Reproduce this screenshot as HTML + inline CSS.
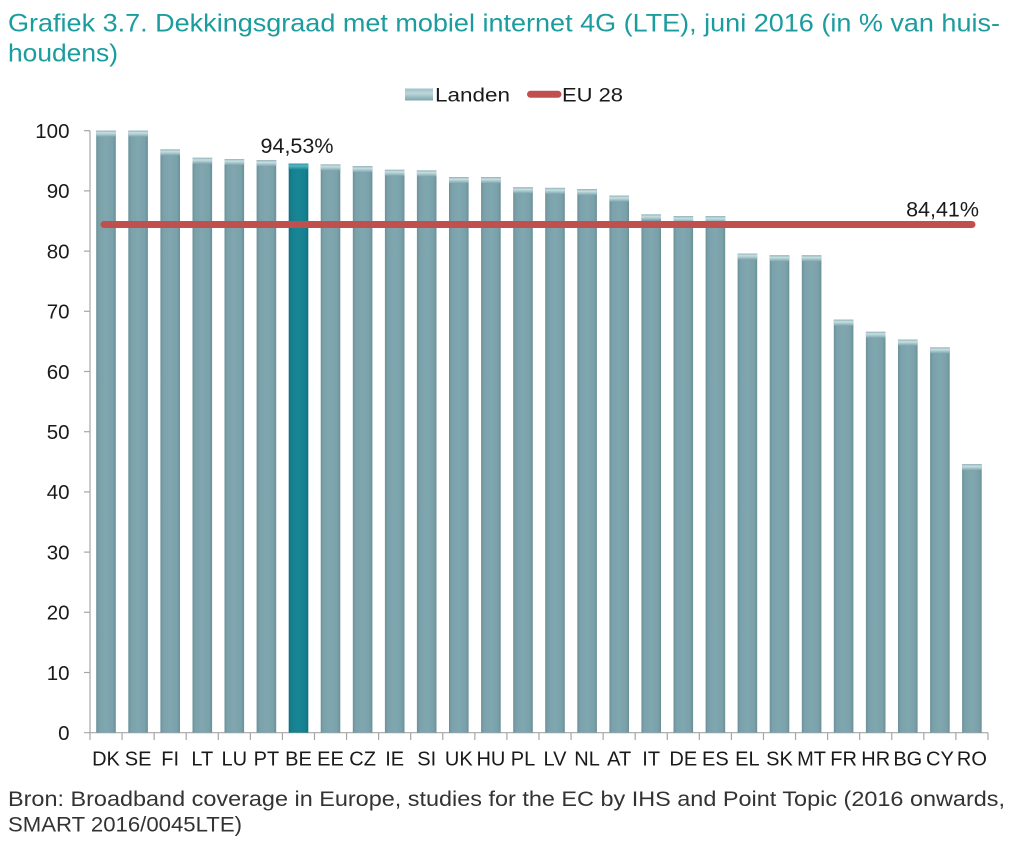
<!DOCTYPE html>
<html>
<head>
<meta charset="utf-8">
<style>
  html, body { margin:0; padding:0; background:#ffffff; }
  body { width:1015px; height:845px; overflow:hidden; }
  svg { display:block; }
  text { font-family: "Liberation Sans", Arial, sans-serif; }
  .b { fill:url(#barGrad); }
  .be { fill:url(#beGrad); }
  .c { fill:url(#capGrad); }
  .cb { fill:url(#capBeGrad); }
  .yl { font-size:20.5px; fill:#1a1a1a; text-anchor:end; }
  .xl { font-size:20px; fill:#1a1a1a; text-anchor:middle; }
</style>
</head>
<body>
<svg width="1015" height="845" viewBox="0 0 1015 845" xmlns="http://www.w3.org/2000/svg">
  <defs>
    <linearGradient id="barGrad" x1="0" y1="0" x2="1" y2="0">
      <stop offset="0" stop-color="#6a9199"/>
      <stop offset="0.15" stop-color="#7ba2aa"/>
      <stop offset="0.5" stop-color="#80a7af"/>
      <stop offset="0.85" stop-color="#7aa1a9"/>
      <stop offset="1" stop-color="#698f97"/>
    </linearGradient>
    <linearGradient id="beGrad" x1="0" y1="0" x2="1" y2="0">
      <stop offset="0" stop-color="#0e6f7d"/>
      <stop offset="0.15" stop-color="#15808f"/>
      <stop offset="0.5" stop-color="#198694"/>
      <stop offset="0.85" stop-color="#15808f"/>
      <stop offset="1" stop-color="#0e6f7d"/>
    </linearGradient>
    <linearGradient id="capGrad" x1="0" y1="0" x2="0" y2="1">
      <stop offset="0" stop-color="#8fb3ba"/>
      <stop offset="0.35" stop-color="#c8dfe2"/>
      <stop offset="1" stop-color="#80a7af"/>
    </linearGradient>
    <linearGradient id="capBeGrad" x1="0" y1="0" x2="0" y2="1">
      <stop offset="0" stop-color="#2a95a3"/>
      <stop offset="0.35" stop-color="#55b6c2"/>
      <stop offset="1" stop-color="#198694"/>
    </linearGradient>
    <linearGradient id="legGrad" x1="0" y1="0" x2="0" y2="1">
      <stop offset="0" stop-color="#9cc0c6"/>
      <stop offset="0.4" stop-color="#bcd6da"/>
      <stop offset="1" stop-color="#7da4ac"/>
    </linearGradient>
  </defs>

  <!-- Title -->
  <text x="8" y="31.5" font-size="25" fill="#1b9c9e" textLength="992" lengthAdjust="spacingAndGlyphs">Grafiek 3.7. Dekkingsgraad met mobiel internet 4G (LTE), juni 2016 (in % van huis-</text>
  <text x="8" y="61.5" font-size="25" fill="#1b9c9e" textLength="110" lengthAdjust="spacingAndGlyphs">houdens)</text>

  <!-- Legend -->
  <rect x="405" y="88.5" width="28" height="12" fill="url(#legGrad)"/>
  <text x="435" y="101.5" font-size="19" fill="#1a1a1a" textLength="75" lengthAdjust="spacingAndGlyphs">Landen</text>
  <line x1="530.5" y1="94.3" x2="558" y2="94.3" stroke="#c0504d" stroke-width="7" stroke-linecap="round"/>
  <text x="562" y="101.5" font-size="19" fill="#1a1a1a" textLength="61" lengthAdjust="spacingAndGlyphs">EU 28</text>

  <!-- Y axis -->
  <g stroke="#a6a6a6" stroke-width="1.2" fill="none">
    <line x1="90" y1="130.7" x2="90" y2="732.7"/>
    <line x1="84" y1="732.7" x2="988" y2="732.7"/>
    <line x1="84" y1="672.5" x2="90" y2="672.5"/>
    <line x1="84" y1="612.3" x2="90" y2="612.3"/>
    <line x1="84" y1="552.1" x2="90" y2="552.1"/>
    <line x1="84" y1="491.9" x2="90" y2="491.9"/>
    <line x1="84" y1="431.7" x2="90" y2="431.7"/>
    <line x1="84" y1="371.5" x2="90" y2="371.5"/>
    <line x1="84" y1="311.3" x2="90" y2="311.3"/>
    <line x1="84" y1="251.1" x2="90" y2="251.1"/>
    <line x1="84" y1="190.9" x2="90" y2="190.9"/>
    <line x1="84" y1="130.7" x2="90" y2="130.7"/>
    <line x1="90" y1="732.7" x2="90" y2="740"/>
    <line x1="122.07" y1="732.7" x2="122.07" y2="740"/>
    <line x1="154.14" y1="732.7" x2="154.14" y2="740"/>
    <line x1="186.21" y1="732.7" x2="186.21" y2="740"/>
    <line x1="218.28" y1="732.7" x2="218.28" y2="740"/>
    <line x1="250.35" y1="732.7" x2="250.35" y2="740"/>
    <line x1="282.42" y1="732.7" x2="282.42" y2="740"/>
    <line x1="314.49" y1="732.7" x2="314.49" y2="740"/>
    <line x1="346.56" y1="732.7" x2="346.56" y2="740"/>
    <line x1="378.63" y1="732.7" x2="378.63" y2="740"/>
    <line x1="410.7" y1="732.7" x2="410.7" y2="740"/>
    <line x1="442.77" y1="732.7" x2="442.77" y2="740"/>
    <line x1="474.84" y1="732.7" x2="474.84" y2="740"/>
    <line x1="506.91" y1="732.7" x2="506.91" y2="740"/>
    <line x1="538.98" y1="732.7" x2="538.98" y2="740"/>
    <line x1="571.05" y1="732.7" x2="571.05" y2="740"/>
    <line x1="603.12" y1="732.7" x2="603.12" y2="740"/>
    <line x1="635.19" y1="732.7" x2="635.19" y2="740"/>
    <line x1="667.26" y1="732.7" x2="667.26" y2="740"/>
    <line x1="699.33" y1="732.7" x2="699.33" y2="740"/>
    <line x1="731.4" y1="732.7" x2="731.4" y2="740"/>
    <line x1="763.47" y1="732.7" x2="763.47" y2="740"/>
    <line x1="795.54" y1="732.7" x2="795.54" y2="740"/>
    <line x1="827.61" y1="732.7" x2="827.61" y2="740"/>
    <line x1="859.68" y1="732.7" x2="859.68" y2="740"/>
    <line x1="891.75" y1="732.7" x2="891.75" y2="740"/>
    <line x1="923.82" y1="732.7" x2="923.82" y2="740"/>
    <line x1="955.89" y1="732.7" x2="955.89" y2="740"/>
    <line x1="987.96" y1="732.7" x2="987.96" y2="740"/>
  </g>

  <!-- Y labels -->
  <text class="yl" x="69.5" y="740">0</text>
  <text class="yl" x="69.5" y="679.8">10</text>
  <text class="yl" x="69.5" y="619.6">20</text>
  <text class="yl" x="69.5" y="559.4">30</text>
  <text class="yl" x="69.5" y="499.2">40</text>
  <text class="yl" x="69.5" y="439">50</text>
  <text class="yl" x="69.5" y="378.8">60</text>
  <text class="yl" x="69.5" y="318.6">70</text>
  <text class="yl" x="69.5" y="258.4">80</text>
  <text class="yl" x="69.5" y="198.2">90</text>
  <text class="yl" x="69.5" y="138">100</text>

  <!-- Bars -->
  <rect class="b" x="96.2" y="130.7" width="19.6" height="602"/><rect class="c" x="96.2" y="130.7" width="19.6" height="6"/>
  <rect class="b" x="128.3" y="130.7" width="19.6" height="602"/><rect class="c" x="128.3" y="130.7" width="19.6" height="6"/>
  <rect class="b" x="160.4" y="149.4" width="19.6" height="583.3"/><rect class="c" x="160.4" y="149.4" width="19.6" height="6"/>
  <rect class="b" x="192.5" y="157.8" width="19.6" height="574.9"/><rect class="c" x="192.5" y="157.8" width="19.6" height="6"/>
  <rect class="b" x="224.5" y="159.0" width="19.6" height="573.7"/><rect class="c" x="224.5" y="159.0" width="19.6" height="6"/>
  <rect class="b" x="256.6" y="160.2" width="19.6" height="572.5"/><rect class="c" x="256.6" y="160.2" width="19.6" height="6"/>
  <rect class="be" x="288.7" y="163.6" width="19.6" height="569.1"/><rect class="cb" x="288.7" y="163.6" width="19.6" height="6"/>
  <rect class="b" x="320.7" y="164.4" width="19.6" height="568.3"/><rect class="c" x="320.7" y="164.4" width="19.6" height="6"/>
  <rect class="b" x="352.8" y="166.2" width="19.6" height="566.5"/><rect class="c" x="352.8" y="166.2" width="19.6" height="6"/>
  <rect class="b" x="384.9" y="169.8" width="19.6" height="562.9"/><rect class="c" x="384.9" y="169.8" width="19.6" height="6"/>
  <rect class="b" x="416.9" y="170.4" width="19.6" height="562.3"/><rect class="c" x="416.9" y="170.4" width="19.6" height="6"/>
  <rect class="b" x="449.0" y="177.1" width="19.6" height="555.6"/><rect class="c" x="449.0" y="177.1" width="19.6" height="6"/>
  <rect class="b" x="481.1" y="177.1" width="19.6" height="555.6"/><rect class="c" x="481.1" y="177.1" width="19.6" height="6"/>
  <rect class="b" x="513.2" y="187.3" width="19.6" height="545.4"/><rect class="c" x="513.2" y="187.3" width="19.6" height="6"/>
  <rect class="b" x="545.2" y="187.9" width="19.6" height="544.8"/><rect class="c" x="545.2" y="187.9" width="19.6" height="6"/>
  <rect class="b" x="577.3" y="189.1" width="19.6" height="543.6"/><rect class="c" x="577.3" y="189.1" width="19.6" height="6"/>
  <rect class="b" x="609.4" y="195.7" width="19.6" height="537.0"/><rect class="c" x="609.4" y="195.7" width="19.6" height="6"/>
  <rect class="b" x="641.4" y="214.4" width="19.6" height="518.3"/><rect class="c" x="641.4" y="214.4" width="19.6" height="6"/>
  <rect class="b" x="673.5" y="216.2" width="19.6" height="516.5"/><rect class="c" x="673.5" y="216.2" width="19.6" height="6"/>
  <rect class="b" x="705.6" y="216.2" width="19.6" height="516.5"/><rect class="c" x="705.6" y="216.2" width="19.6" height="6"/>
  <rect class="b" x="737.6" y="253.5" width="19.6" height="479.2"/><rect class="c" x="737.6" y="253.5" width="19.6" height="6"/>
  <rect class="b" x="769.7" y="255.3" width="19.6" height="477.4"/><rect class="c" x="769.7" y="255.3" width="19.6" height="6"/>
  <rect class="b" x="801.8" y="255.3" width="19.6" height="477.4"/><rect class="c" x="801.8" y="255.3" width="19.6" height="6"/>
  <rect class="b" x="833.8" y="319.7" width="19.6" height="413.0"/><rect class="c" x="833.8" y="319.7" width="19.6" height="6"/>
  <rect class="b" x="865.9" y="331.8" width="19.6" height="400.9"/><rect class="c" x="865.9" y="331.8" width="19.6" height="6"/>
  <rect class="b" x="898.0" y="339.6" width="19.6" height="393.1"/><rect class="c" x="898.0" y="339.6" width="19.6" height="6"/>
  <rect class="b" x="930.1" y="347.4" width="19.6" height="385.3"/><rect class="c" x="930.1" y="347.4" width="19.6" height="6"/>
  <rect class="b" x="962.1" y="464.2" width="19.6" height="268.5"/><rect class="c" x="962.1" y="464.2" width="19.6" height="6"/>

  <!-- EU 28 line -->
  <line x1="104" y1="224.5" x2="972" y2="224.5" stroke="#c0504d" stroke-width="7" stroke-linecap="round"/>

  <!-- Value labels -->
  <text x="297" y="153" font-size="21.5" fill="#1a1a1a" text-anchor="middle">94,53%</text>
  <text x="979" y="216.7" font-size="21.5" fill="#1a1a1a" text-anchor="end">84,41%</text>

  <!-- X labels -->
  <text class="xl" x="106.0" y="765.5">DK</text>
  <text class="xl" x="138.1" y="765.5">SE</text>
  <text class="xl" x="170.2" y="765.5">FI</text>
  <text class="xl" x="202.3" y="765.5">LT</text>
  <text class="xl" x="234.3" y="765.5">LU</text>
  <text class="xl" x="266.4" y="765.5">PT</text>
  <text class="xl" x="298.5" y="765.5">BE</text>
  <text class="xl" x="330.5" y="765.5">EE</text>
  <text class="xl" x="362.6" y="765.5">CZ</text>
  <text class="xl" x="394.7" y="765.5">IE</text>
  <text class="xl" x="426.7" y="765.5">SI</text>
  <text class="xl" x="458.8" y="765.5">UK</text>
  <text class="xl" x="490.9" y="765.5">HU</text>
  <text class="xl" x="523.0" y="765.5">PL</text>
  <text class="xl" x="555.0" y="765.5">LV</text>
  <text class="xl" x="587.1" y="765.5">NL</text>
  <text class="xl" x="619.2" y="765.5">AT</text>
  <text class="xl" x="651.2" y="765.5">IT</text>
  <text class="xl" x="683.3" y="765.5">DE</text>
  <text class="xl" x="715.4" y="765.5">ES</text>
  <text class="xl" x="747.4" y="765.5">EL</text>
  <text class="xl" x="779.5" y="765.5">SK</text>
  <text class="xl" x="811.6" y="765.5">MT</text>
  <text class="xl" x="843.6" y="765.5">FR</text>
  <text class="xl" x="875.7" y="765.5">HR</text>
  <text class="xl" x="907.8" y="765.5">BG</text>
  <text class="xl" x="939.9" y="765.5">CY</text>
  <text class="xl" x="971.9" y="765.5">RO</text>

  <!-- Source -->
  <text x="8" y="806" font-size="21" fill="#333333" textLength="997" lengthAdjust="spacingAndGlyphs">Bron: Broadband coverage in Europe, studies for the EC by IHS and Point Topic (2016 onwards,</text>
  <text x="8" y="831.5" font-size="21" fill="#333333" textLength="234" lengthAdjust="spacingAndGlyphs">SMART 2016/0045LTE)</text>
</svg>
</body>
</html>
